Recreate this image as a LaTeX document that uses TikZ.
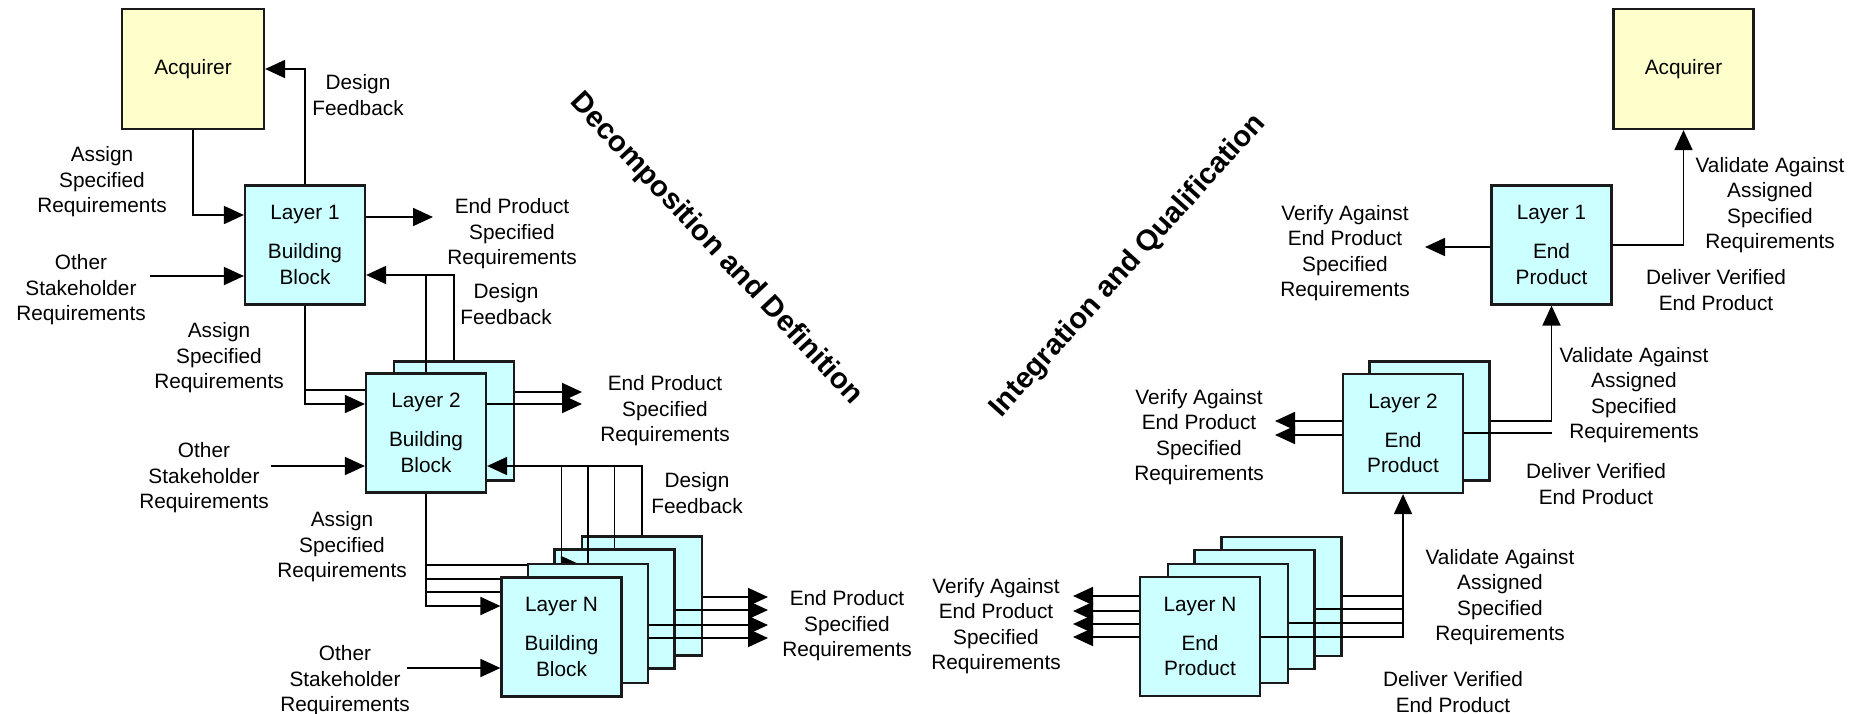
\documentclass[tikz,border=0pt]{standalone}
\usepackage{fontspec}
\setmainfont{Liberation Sans}
\usetikzlibrary{arrows.meta}
\pgfdeclarelayer{front}
\pgfsetlayers{main,front}

\definecolor{bbfill}{HTML}{CCFFFF}
\definecolor{acqfill}{HTML}{FFFFCC}
\definecolor{edge}{HTML}{1A1A1A}

\begin{document}
\begin{tikzpicture}[x=0.5pt,y=-0.5pt,
  lbl/.style={align=center, font=\fontsize{10.4}{12.7}\selectfont, inner sep=0pt},
  blk/.style={draw=edge, line width=1.1pt, fill=bbfill, minimum width=60pt,
    minimum height=59.5pt, inner sep=0pt, align=center,
    font=\fontsize{10.4}{12.7}\selectfont},
  acq/.style={blk, fill=acqfill, minimum width=71pt, minimum height=60pt},
  wire/.style={line width=0.9pt, draw=black},
  arr/.style={wire, -{Triangle[length=10pt,width=9pt]}},
  title/.style={font=\bfseries\fontsize{14.6}{16}\selectfont, inner sep=0pt}
]
% canvas
\fill[white] (0,0) rectangle (1867,713);
\path[use as bounding box] (0,0) rectangle (1867,713);

% free ends of connectors
\coordinate (oth1) at (150,276);
\coordinate (ep1) at (433,217);
\coordinate (oth2) at (271,466);
\coordinate (ep2a) at (582,392);
\coordinate (ep2b) at (582,404);
\coordinate (oth3) at (407,668);
\coordinate (ep3a) at (768,597);
\coordinate (ep3b) at (768,610);
\coordinate (ep3c) at (768,625);
\coordinate (ep3d) at (768,638);
\coordinate (ver1) at (1425,247);
\coordinate (ver2a) at (1275,421);
\coordinate (ver2b) at (1275,435);
\coordinate (verNa) at (1073,596);
\coordinate (verNb) at (1073,611);
\coordinate (verNc) at (1073,624);
\coordinate (verNd) at (1073,637);

% ===== Decomposition side =====
\node[acq] (AcqL) at (193,69) {Acquirer};
\node[blk] (L1) at (305,245) {Layer 1\\[6.8pt]Building\\Block};
\draw[arr] (AcqL.south) |- (L1.west |- 0,215);
\draw[arr] (L1.north) |- (AcqL.east);
\draw[arr] (oth1) -- (L1.west |- oth1);
\draw[arr] (L1.east |- ep1) -- (ep1);

\node[blk] (L2b) at (454,421) {};
\draw[arr] (L1.south |- 0,390) -- (L2b.west |- 0,390);
\draw[arr] (L2b.east |- ep2a) -- (ep2a);
\draw[arr] (L2b.north) |- (L1.east |- 0,275);

\node[blk] (L2) at (426,433) {Layer 2\\[6.8pt]Building\\Block};
\draw[arr] (L1.south) |- (L2.west |- ep2b);
\draw[arr] (oth2) -- (L2.west |- oth2);
\draw[arr] (L2.east |- ep2b) -- (ep2b);
\draw[wire] (L2.north) -- (L2.north |- 0,275);

\node[blk] (LN4) at (642,596) {};
\node[blk] (LN3) at (614.5,609) {};
\begin{pgfonlayer}{front}
  \node[blk] (LN2) at (588,623.5) {};
  \node[blk] (LN1) at (561.5,637) {Layer N\\[6.8pt]Building\\Block};
\end{pgfonlayer}
% assigned requirements down to each layer-N block
\draw[arr] (L2.south |- 0,565) -- (LN4.west |- 0,565);
\draw[arr] (L2.south |- 0,579) -- (LN3.west |- 0,579);
\draw[arr] (L2.south |- 0,592) -- (LN2.west |- 0,592);
\draw[arr] (L2.south) |- (LN1.west |- 0,606);
\draw[arr] (oth3) -- (LN1.west |- oth3);
% design feedback up to layer 2
\draw[arr] (LN4.north) |- (L2.east |- 0,466);
\draw[wire] (LN3.north) -- (LN3.north |- 0,466);
\draw[wire] (LN2.north) -- (LN2.north |- 0,466);
\draw[wire] (LN1.north) -- (LN1.north |- 0,466);
% end product specified requirements
\draw[arr] (LN4.east |- ep3a) -- (ep3a);
\draw[arr] (LN3.east |- ep3b) -- (ep3b);
\draw[arr] (LN2.east |- ep3c) -- (ep3c);
\draw[arr] (LN1.east |- ep3d) -- (ep3d);

% labels, left half
\node[lbl] (t1) at (102,182) {Assign\\Specified\\Requirements};
\node[lbl] (t2) at (358,95) {Design\\Feedback};
\node[lbl] (t3) at (81,290) {Other\\Stakeholder\\Requirements};
\node[lbl] (t4) at (512,234) {End Product\\Specified\\Requirements};
\node[lbl] (t5) at (506,304) {Design\\Feedback};
\node[lbl] (t6) at (219,358) {Assign\\Specified\\Requirements};
\node[lbl] (t7) at (204,478) {Other\\Stakeholder\\Requirements};
\node[lbl] (t8) at (665,411) {End Product\\Specified\\Requirements};
\node[lbl] (t9) at (697,493) {Design\\Feedback};
\node[lbl] (t10) at (342,547) {Assign\\Specified\\Requirements};
\node[lbl] (t11) at (345,681) {Other\\Stakeholder\\Requirements};
\node[lbl] (t12) at (847,626) {End Product\\Specified\\Requirements};

% ===== Integration side =====
\node[acq, minimum width=70pt] (AcqR) at (1683.5,69) {Acquirer};
\node[blk] (R1) at (1551.5,245) {Layer 1\\[6.8pt]End\\Product};
\draw[arr] (R1.east) -| (AcqR.south);
\draw[arr] (R1.west |- ver1) -- (ver1);

\node[blk] (R2b) at (1429.5,421) {};
\draw[arr] (R2b.west |- ver2a) -- (ver2a);
\draw[arr] (R2b.east |- 0,421) -| (R1.south);

\node[blk] (R2) at (1403,433.5) {Layer 2\\[6.8pt]End\\Product};
\draw[arr] (R2.west |- ver2b) -- (ver2b);
\draw[wire] (R2.east |- 0,433) -- (R1.south |- 0,433);

\node[blk] (RN4) at (1281.5,596.5) {};
\draw[arr] (RN4.west |- verNa) -- (verNa);
\draw[wire] (RN4.east |- 0,596) -- (R2.south |- 0,596);

\node[blk] (RN3) at (1254.5,609.5) {};
\draw[arr] (RN3.west |- verNb) -- (verNb);
\draw[wire] (RN3.east |- 0,609) -- (R2.south |- 0,609);

\node[blk] (RN2) at (1228,623.5) {};
\draw[arr] (RN2.west |- verNc) -- (verNc);
\draw[wire] (RN2.east |- 0,623) -- (R2.south |- 0,623);

\node[blk] (RN1) at (1200,636.5) {Layer N\\[6.8pt]End\\Product};
\draw[arr] (RN1.west |- verNd) -- (verNd);
\draw[arr] (RN1.east |- 0,637) -| (R2.south);

% labels, right half
\node[lbl] (u1) at (996,626) {Verify Against\\End Product\\Specified\\Requirements};
\node[lbl] (u2) at (1500,597) {Validate Against\\Assigned\\Specified\\Requirements};
\node[lbl] (u3) at (1453,692) {Deliver Verified\\End Product};
\node[lbl] (u4) at (1199,437) {Verify Against\\End Product\\Specified\\Requirements};
\node[lbl] (u5) at (1634,395) {Validate Against\\Assigned\\Specified\\Requirements};
\node[lbl] (u6) at (1596,484) {Deliver Verified\\End Product};
\node[lbl] (u7) at (1345,253) {Verify Against\\End Product\\Specified\\Requirements};
\node[lbl] (u8) at (1770,205) {Validate Against\\Assigned\\Specified\\Requirements};
\node[lbl] (u9) at (1716,290) {Deliver Verified\\End Product};

% diagonal phase titles
\node[title, rotate=-47] (dd) at (716,249) {Decomposition and Definition};
\node[title, rotate=48] (iq) at (1128,266) {Integration and Qualification};
\end{tikzpicture}
\end{document}
